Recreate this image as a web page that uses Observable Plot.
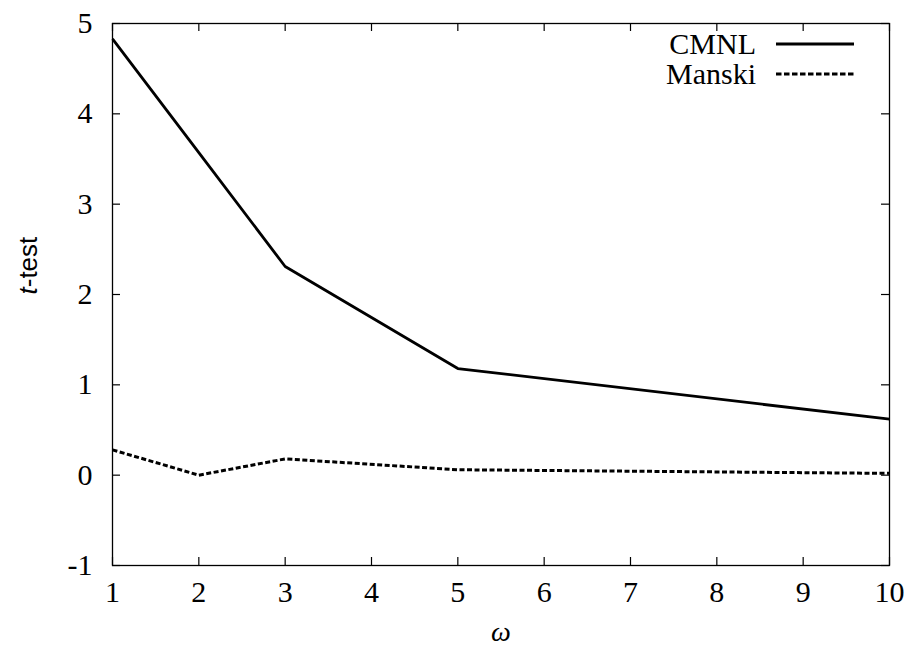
<!DOCTYPE html>
<html>
<head>
<meta charset="utf-8">
<script src="https://cdn.jsdelivr.net/npm/d3@7"></script>
<script src="https://cdn.jsdelivr.net/npm/@observablehq/plot@0.6"></script>
<style>
  body { margin: 0; background: #fff; }
</style>
</head>
<body>
<div id="chart"></div>
<script>
// t-test statistic against ω for the two estimators
const omega = [1, 2, 3, 5, 10];
const cmnl = [4.83, 3.57, 2.31, 1.18, 0.62];
const manski = [0.28, 0.0, 0.18, 0.06, 0.02];
const seriesNames = ["CMNL", "Manski"];
const lineDash = ["none", "5,2.5"];
const legendDash = ["none", "5.5,2.5"];
const xTicks = [1, 2, 3, 4, 5, 6, 7, 8, 9, 10];
const yTicks = [-1, 0, 1, 2, 3, 4, 5];

const W = 914, H = 656;
const M = {top: 23, right: 25, bottom: 91, left: 112};
const innerW = W - M.left - M.right;
const innerH = H - M.top - M.bottom;
const TICK = 8;
const FS = 30;
const SERIF = "Liberation Serif";
const SANS = "Liberation Sans";

const rows = omega.flatMap((w, i) => [
  {omega: w, t: cmnl[i], series: seriesNames[0]},
  {omega: w, t: manski[i], series: seriesNames[1]}
]);

// Legend drawn in the upper-right corner of the frame
function legend(index, scales, values, dims) {
  const g = d3.create("svg:g");
  const xr = dims.width - dims.marginRight;
  seriesNames.forEach((name, i) => {
    const y = dims.marginTop + 21 + i * 30;
    g.append("text")
      .attr("x", xr - 133).attr("y", y).attr("dy", "0.32em")
      .attr("text-anchor", "end").attr("font-size", FS)
      .attr("font-family", SERIF)
      .attr("fill", "#000").text(name);
    g.append("line")
      .attr("x1", xr - 113).attr("x2", xr - 35)
      .attr("y1", y).attr("y2", y)
      .attr("stroke", "#000").attr("stroke-width", 2.8)
      .attr("stroke-linecap", "butt")
      .attr("stroke-dasharray", legendDash[i]);
  });
  return g.node();
}

const lineStyle = {x: "omega", y: "t", stroke: "#000", strokeLinecap: "butt", strokeLinejoin: "miter"};

const chart = Plot.plot({
  width: W,
  height: H,
  marginTop: M.top,
  marginRight: M.right,
  marginBottom: M.bottom,
  marginLeft: M.left,
  style: {background: "#fff", color: "#000"},
  x: {domain: [1, 10]},
  y: {domain: [-1, 5]},
  marks: [
    // tick labels
    Plot.axisX({ticks: xTicks, tickSize: 0, tickPadding: 15, label: null, fontSize: FS, fontFamily: SERIF, fontVariant: "normal", tickFormat: d => String(d)}),
    Plot.axisY({ticks: yTicks, tickSize: 0, tickPadding: 20, label: null, fontSize: FS, fontFamily: SERIF, fontVariant: "normal", tickFormat: d => String(d)}),
    // inward tick marks on all four sides
    Plot.tickX(xTicks, {x: d => d, insetTop: innerH - TICK, stroke: "#000", strokeWidth: 1.2}),
    Plot.tickX(xTicks, {x: d => d, insetBottom: innerH - TICK, stroke: "#000", strokeWidth: 1.2}),
    Plot.tickY(yTicks, {y: d => d, insetRight: innerW - TICK, stroke: "#000", strokeWidth: 1.2}),
    Plot.tickY(yTicks, {y: d => d, insetLeft: innerW - TICK, stroke: "#000", strokeWidth: 1.2}),
    Plot.frame({stroke: "#000", strokeWidth: 1.3}),
    // series
    Plot.line(rows.filter(d => d.series === seriesNames[0]), {...lineStyle, strokeWidth: 2.8}),
    Plot.line(rows.filter(d => d.series === seriesNames[1]), {...lineStyle, strokeWidth: 3, strokeDasharray: lineDash[1]}),
    // axis titles
    Plot.text(["ω"], {frameAnchor: "bottom", dy: 75, text: d => d, fontSize: 28, fontStyle: "italic", fontFamily: SERIF}),
    Plot.text(["t-test"], {frameAnchor: "left", dx: -84, rotate: -90, text: d => d, fontSize: 26, fontFamily: SANS, className: "ylabel"}),
    legend
  ]
});

// italic "t" followed by upright "-test"
const ylab = d3.select(chart).select(".ylabel text");
ylab.text(null);
ylab.append("tspan").attr("font-style", "italic").text("t");
ylab.append("tspan").text("-test");

document.getElementById("chart").appendChild(chart);
</script>
</body>
</html>
